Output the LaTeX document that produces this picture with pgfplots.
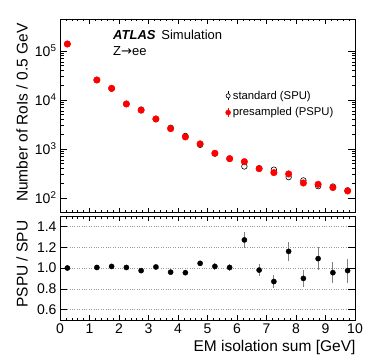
\documentclass[border=0pt]{standalone}
\usepackage{fontspec}
\setmainfont{Liberation Sans}
\newfontfamily\dejavu{DejaVu Sans}
\usepackage{pgfplots}
\pgfplotsset{compat=1.18}

\pgfplotsset{
  rootstyle/.style={
    scale only axis,
    width=295pt,
    xmin=0, xmax=10,
    tick align=inside,
    xtick pos=both, ytick pos=both,
    major tick length=7pt, minor tick length=3.5pt,
    major x tick style={/pgfplots/major tick length=5pt},
    minor x tick style={/pgfplots/minor tick length=2.5pt},
    tick style={black, line width=0.6pt},
    axis line style={line width=0.8pt},
    minor x tick num=4,
    ticklabel style={font=\fontsize{14}{16}\selectfont},
    /pgf/number format/assume math mode=true,
  },
}

\begin{document}
\begin{tikzpicture}
\useasboundingbox (0pt,0pt) rectangle (374pt,359pt);

% upper panel
\begin{axis}[rootstyle,
    at={(60pt,146.3pt)}, anchor=south west,
    height=193.7pt,
    ymode=log, ymin=50, ymax=4.5e5,
    xtick={0,1,...,10}, xticklabels={},
    ytick={1e2,1e3,1e4,1e5},
    yticklabels={10\textsuperscript{2},10\textsuperscript{3},10\textsuperscript{4},10\textsuperscript{5}},
    legend style={at={(rel axis cs:0.55,0.65)}, anchor=north west, draw=none, fill=none,
      font=\fontsize{11.3}{13}\selectfont, row sep=3pt, legend cell align=left},
]
\addplot[only marks, mark=o, mark size=2.8pt, mark options={black, fill=white, line width=0.6pt},
    legend image code/.code={
      \draw[black, line width=0.6pt] (0.3cm,-4.5pt) -- (0.3cm,4.5pt);
      \draw[black, fill=white, line width=0.6pt] (0.3cm,0pt) circle (2.1pt);}] coordinates {
  (0.25,139000) (1.25,25500) (1.75,17000) (2.25,8260) (2.75,6360) (3.25,4060)
  (3.75,2710) (4.25,1840) (4.75,1215) (5.25,805) (5.75,632) (6.25,440)
  (6.75,404) (7.25,378) (7.75,266) (8.25,228) (8.75,174) (9.25,171) (9.75,143)
};
\addlegendentry{standard (SPU)}
\addplot[only marks, mark=*, mark size=3.3pt, color=red, mark options={draw=red, fill=red},
    legend image code/.code={
      \draw[red, line width=0.8pt] (0.3cm,-4.5pt) -- (0.3cm,4.5pt);
      \fill[red] (0.3cm,0pt) circle (2.5pt);}] coordinates {
  (0.25,139000) (1.25,25600) (1.75,17300) (2.25,8300) (2.75,6200) (3.25,4100)
  (3.75,2600) (4.25,1760) (4.75,1270) (5.25,817) (5.75,635) (6.25,551)
  (6.75,396) (7.25,329) (7.75,309) (8.25,202) (8.75,190) (9.25,163) (9.75,139)
};
\addlegendentry{presampled (PSPU)}
\end{axis}

% ratio panel
\begin{axis}[rootstyle,
    at={(60pt,39pt)}, anchor=south west,
    height=104pt,
    ymin=0.5, ymax=1.5,
    xtick={0,1,...,10},
    ytick={0.6,0.8,1.0,1.2,1.4},
    yticklabel style={/pgf/number format/.cd, fixed, fixed zerofill, precision=1},
    ymajorgrids, grid style={gray!80, dotted, line width=0.6pt},
]
\addplot[only marks, mark=*, mark size=2.6pt, black,
    error bars/.cd, y dir=both, y explicit,
    error mark=none, error bar style={gray, line width=0.8pt}]
  table[x=x, y=y, y error=e] {
    x    y     e
    0.25 1.000 0.004
    1.25 1.005 0.006
    1.75 1.015 0.007
    2.25 1.005 0.008
    2.75 0.975 0.010
    3.25 1.010 0.012
    3.75 0.960 0.014
    4.25 0.955 0.018
    4.75 1.045 0.025
    5.25 1.015 0.030
    5.75 1.005 0.035
    6.25 1.270 0.075
    6.75 0.980 0.060
    7.25 0.870 0.060
    7.75 1.160 0.090
    8.25 0.900 0.080
    8.75 1.090 0.110
    9.25 0.955 0.100
    9.75 0.975 0.115
  };
\end{axis}

% titles and labels
\node[rotate=90, anchor=east, font=\fontsize{15.5}{18}\selectfont] at (22pt,339pt) {Number of RoIs / 0.5 GeV};
\node[rotate=90, anchor=east, font=\fontsize{15.5}{18}\selectfont] at (22pt,142pt) {PSPU / SPU};
\node[anchor=east, font=\fontsize{15.5}{18}\selectfont] at (359pt,12pt) {EM isolation sum [GeV]};
\node[anchor=west, font=\fontsize{13}{15}\selectfont, inner sep=0pt] at (113pt,324pt) {\textbf{\textit{ATLAS}}\hspace{0.45em}Simulation};
\node[anchor=west, font=\fontsize{13}{15}\selectfont, inner sep=0pt] at (113pt,308pt) {Z{\dejavu →}ee};
\end{tikzpicture}
\end{document}
